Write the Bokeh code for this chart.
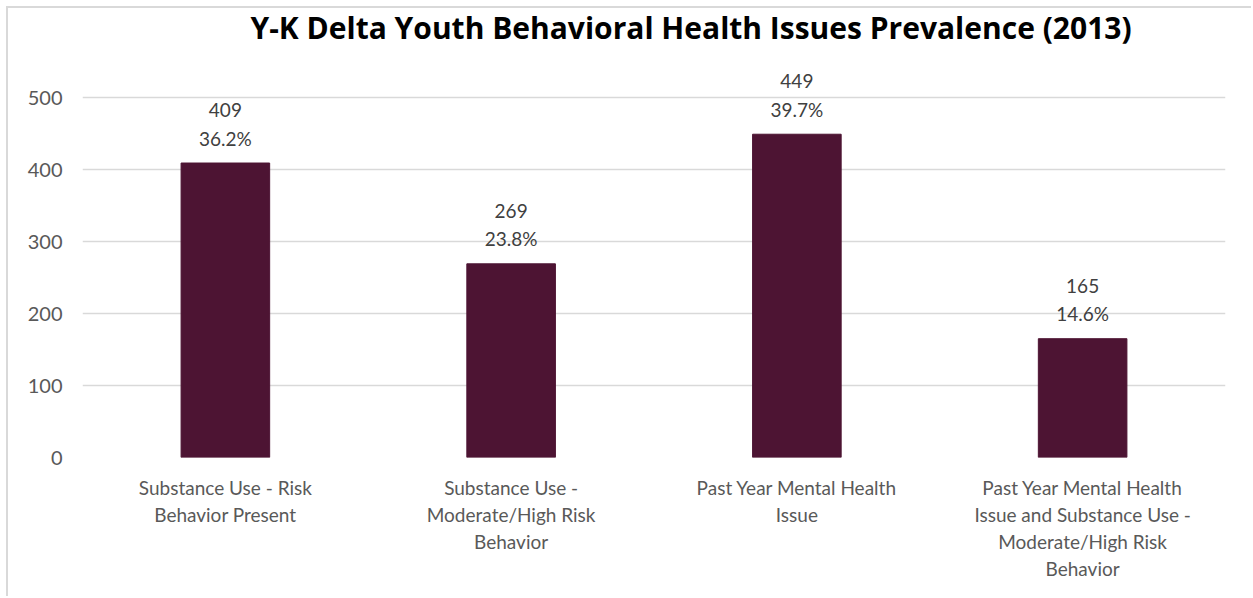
from bokeh.plotting import figure
from bokeh.models import ColumnDataSource, LabelSet, FixedTicker, Range1d
from bokeh.core.properties import value
from bokeh.embed import file_html
from bokeh.resources import INLINE

# ---- data ----
categories = [
    "Substance Use - Risk\nBehavior Present",
    "Substance Use -\nModerate/High Risk\nBehavior",
    "Past Year Mental Health\nIssue",
    "Past Year Mental Health\nIssue and Substance Use -\nModerate/High Risk\nBehavior",
]
counts = [409, 269, 449, 165]
percents = ["36.2%", "23.8%", "39.7%", "14.6%"]
y_ticks = [0, 100, 200, 300, 400, 500]
title_text = "Y-K Delta Youth Behavioral Health Issues Prevalence (2013)"

FONT = "Lato"
BAR = "#4d1433"
GRID = "#d9d9d9"
TXT = "#595959"

src = ColumnDataSource(dict(x=categories, top=counts,
                            count_label=[str(c) for c in counts],
                            pct_label=percents))

p = figure(
    x_range=categories,
    y_range=Range1d(0, 576.4),
    width=1245, height=590,
    output_backend="svg", toolbar_location=None,
    min_border_left=74, min_border_right=28,
    min_border_top=34, min_border_bottom=141,
)
p.styles = {"margin-left": "6px", "margin-top": "6px",
            "border-left": "2px solid #d9d9d9", "border-top": "2px solid #d9d9d9"}
p.outline_line_color = None
p.background_fill_color = "white"
p.border_fill_color = "white"

# title
p.title.text = title_text
p.title.align = "left"
p.title.offset = 168
p.title.text_font = "Open Sans"
p.title.text_font_size = "30px"
p.title.text_font_style = "bold"
p.title.text_color = "black"
p.title.standoff = -10

p.vbar(x="x", top="top", width=0.31, source=src, color=BAR, line_color=BAR)

# grid
p.xgrid.grid_line_color = None
p.ygrid.grid_line_color = GRID
p.ygrid.grid_line_width = 1.5
p.ygrid.ticker = FixedTicker(ticks=y_ticks)

# y axis
p.yaxis.ticker = FixedTicker(ticks=y_ticks)
p.yaxis.axis_line_color = None
p.yaxis.major_tick_line_color = None
p.yaxis.minor_tick_line_color = None
p.yaxis.major_label_text_font = FONT
p.yaxis.major_label_text_font_size = "20px"
p.yaxis.major_label_text_color = TXT
p.yaxis.major_label_standoff = 14

# x axis
p.xaxis.axis_line_color = None
p.xaxis.major_tick_line_color = None
p.xaxis.minor_tick_line_color = None
p.xaxis.major_label_text_font = FONT
p.xaxis.major_label_text_font_size = "19px"
p.xaxis.major_label_text_color = TXT
p.xaxis.major_label_standoff = 12
p.xaxis.major_label_text_line_height = 1.18

# value labels (two lines, each centred)
for col, off in (("count_label", 53), ("pct_label", 25)):
    ls = LabelSet(x="x", y="top", text=col, source=src,
                  text_align="center", text_baseline="middle",
                  y_offset=off, text_font=value(FONT), text_font_size="19px",
                  text_color="#404040")
    p.add_layout(ls)

open("out.html", "w").write(file_html(p, INLINE))
